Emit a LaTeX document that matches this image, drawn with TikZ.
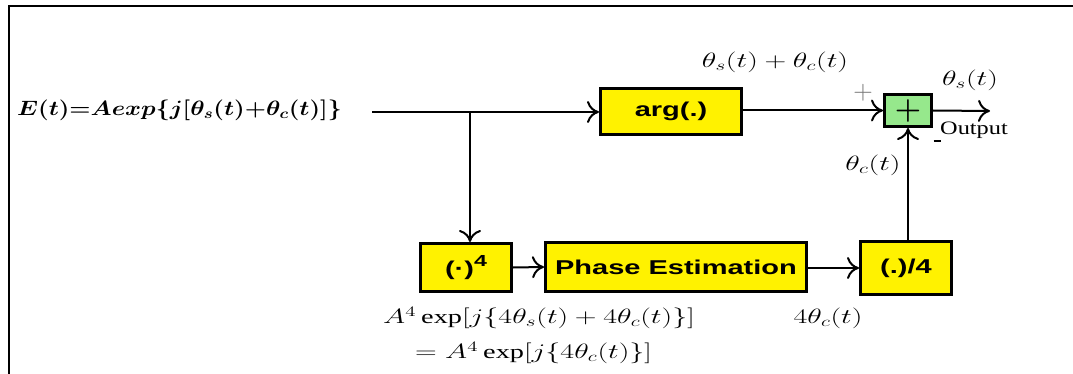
\documentclass[tikz,border=0pt]{standalone}
\usepackage{fontspec}
\usepackage{graphicx}
\setmainfont{Liberation Serif}
\newfontfamily\boxfont{Liberation Sans}
\usetikzlibrary{arrows.meta}
\definecolor{boxyellow}{RGB}{255,242,0}
\definecolor{sumgreen}{RGB}{150,232,140}
\newcommand{\wide}[1]{\scalebox{1.45}[1]{#1}}
\tikzset{
  blk/.style={draw=black, line width=3pt, fill=boxyellow, inner sep=0pt,
    font=\boxfont\bfseries\fontsize{20}{24}\selectfont},
  sumblk/.style={draw=black, line width=3pt, fill=sumgreen, inner sep=0pt,
    minimum width=47pt, minimum height=32pt, font=\fontsize{20}{22}\selectfont},
  conn/.style={line width=2pt, -{Computer Modern Rightarrow[length=12pt,width=22pt,line width=2pt]}},
  lbl/.style={inner sep=0pt, font=\fontsize{19.5}{22}\selectfont},
}
\begin{document}
\begin{tikzpicture}[x=1pt,y=-1pt]
\useasboundingbox (0,0) rectangle (1073,374);
% frame (only top and left visible)
\draw[line width=2.5pt] (9,380) -- (9,6) -- (1080,6);

% blocks
\node[blk, minimum width=141pt, minimum height=46pt] (arg) at (671,111.5) {\wide{arg(.)}};
\node[sumblk] (sum) at (908,110.5) {\scalebox{1.45}{\boldmath$+$}};
\node[blk, minimum width=91pt, minimum height=48pt] (pow) at (466,267.5) {\wide{(·)\raisebox{0.45em}{\fontsize{16}{17}\selectfont 4}}};
\node[blk, minimum width=261pt, minimum height=49pt] (pe) at (676,267) {\wide{Phase Estimation}};
\node[blk, minimum width=91pt, minimum height=53pt] (div) at (906,268) {\wide{(.)/4}};

% connectors
\coordinate (in) at (372,112);
\coordinate (br) at (470,112);
\coordinate (out) at (990,111);
\draw[conn] (in) -- (arg.west |- in);
\draw[conn] (br) -- (br |- pow.north);
\draw[conn] (arg.east |- sum.west) -- (sum.west);
\draw[conn] (sum.east) -- (out);
\draw[conn] (pow.east) -- (pe.west);
\draw[conn] (pe.east |- div.west) -- (div.west);
\draw[conn] (div.north -| sum.south) -- (sum.south);

% labels
\node[lbl, anchor=west, font=\fontsize{20}{22}\selectfont] (lE) at (17,110) {\scalebox{1.17}[1]{\boldmath$E(t){=}Aexp\{j[\theta_s(t){+}\theta_c(t)]\}$}};
\node[lbl] (lsc) at (775,62) {\wide{$\theta_s(t)+\theta_c(t)$}};
\node[lbl] (ls) at (970,80) {\wide{$\theta_s(t)$}};
\node[lbl, font=\fontsize{19}{21}\selectfont] (lout) at (974,130) {\scalebox{1.28}[1]{Output}};
\node[lbl, text=black!55] (lplus) at (863,93) {\scalebox{1.3}{$+$}};
\node[lbl] (lminus) at (937,141) {\rule{7pt}{2.5pt}};
\node[lbl] (lc) at (873,165) {\wide{$\theta_c(t)$}};
\node[lbl, anchor=west] (lA1) at (383,318) {\wide{$A^4\exp[j\{4\theta_s(t)+4\theta_c(t)\}]$}};
\node[lbl, anchor=west] (lA2) at (415,353) {\wide{$=A^4\exp[j\{4\theta_c(t)\}]$}};
\node[lbl] (l4c) at (828,318) {\wide{$4\theta_c(t)$}};
\end{tikzpicture}
\end{document}
